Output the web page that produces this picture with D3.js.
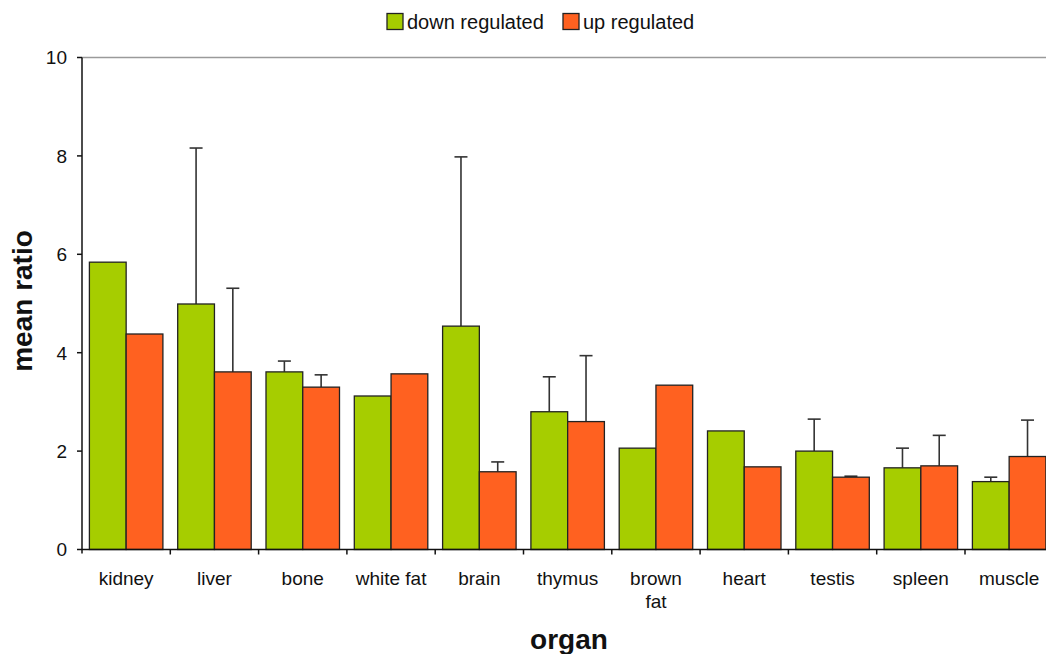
<!DOCTYPE html>
<html>
<head>
<meta charset="utf-8">
<script src="https://cdn.jsdelivr.net/npm/d3@7"></script>
<style>
  html, body { margin: 0; padding: 0; background: #fff; }
  svg { display: block; font-family: "Liberation Sans", Arial, sans-serif; }
</style>
</head>
<body>
<svg id="chart" width="1046" height="654"></svg>
<script>
const categories = ["kidney", "liver", "bone", "white fat", "brain", "thymus", "brown fat", "heart", "testis", "spleen", "muscle"];
const seriesNames = ["down regulated", "up regulated"];
const downValues = [5.84, 4.99, 3.61, 3.12, 4.54, 2.80, 2.06, 2.41, 2.00, 1.66, 1.38];
const downErrors = [null, 8.16, 3.83, null, 7.98, 3.51, null, null, 2.65, 2.06, 1.47];
const upValues = [4.38, 3.61, 3.30, 3.57, 1.58, 2.60, 3.34, 1.68, 1.47, 1.70, 1.89];
const upErrors = [null, 5.31, 3.55, null, 1.78, 3.94, null, null, 1.49, 2.32, 2.63];
const yTicks = [0, 2, 4, 6, 8, 10];
const colors = ["#a6cd00", "#ff6120"];

(function () {
const svg = d3.select("#chart");
const mLeft = 82, mTop = 57.5, mBottom = 549.5, band = 88.3;
const mRight = mLeft + band * categories.length;

const x = d3.scaleBand().domain(categories).range([mLeft, mRight]);
const xs = d3.scaleBand().domain(seriesNames).range([7.4, band - 7.4]);
const y = d3.scaleLinear().domain([0, 10]).range([mBottom, mTop]);

const rows = categories.map((c, i) => ({
  cat: c,
  vals: [
    { s: seriesNames[0], v: downValues[i], e: downErrors[i], col: colors[0] },
    { s: seriesNames[1], v: upValues[i], e: upErrors[i], col: colors[1] }
  ]
}));

svg.append("line").attr("x1", mLeft).attr("x2", 1046).attr("y1", y(10)).attr("y2", y(10))
  .attr("stroke", "#9a9a9a").attr("stroke-width", 1.5);

const g = svg.append("g");
rows.forEach(r => {
  r.vals.forEach(d => {
    if (d.e == null) return;
    const cx = x(r.cat) + xs(d.s) + xs.bandwidth() / 2;
    g.append("line").attr("x1", cx).attr("x2", cx).attr("y1", y(d.v)).attr("y2", y(d.e))
      .attr("stroke", "#333").attr("stroke-width", 1.6);
    g.append("line").attr("x1", cx - 6.5).attr("x2", cx + 6.5).attr("y1", y(d.e)).attr("y2", y(d.e))
      .attr("stroke", "#333").attr("stroke-width", 1.6);
  });
});

rows.forEach(r => {
  g.selectAll(null).data(r.vals).enter().append("rect")
    .attr("x", d => x(r.cat) + xs(d.s))
    .attr("width", xs.bandwidth())
    .attr("y", d => y(d.v))
    .attr("height", d => y(0) - y(d.v))
    .attr("fill", d => d.col)
    .attr("stroke", "#222").attr("stroke-width", 1.3);
});

// y axis
svg.append("line").attr("x1", mLeft).attr("x2", mLeft).attr("y1", mTop).attr("y2", mBottom + 4)
  .attr("stroke", "#111").attr("stroke-width", 1.5);
yTicks.forEach(t => {
  svg.append("line").attr("x1", mLeft - 5).attr("x2", mLeft).attr("y1", y(t)).attr("y2", y(t))
    .attr("stroke", "#111").attr("stroke-width", 1.5);
  svg.append("text").attr("x", mLeft - 15).attr("y", y(t)).attr("dy", "0.36em")
    .attr("text-anchor", "end").attr("font-size", 19).attr("fill", "#111").text(t);
});

// x axis
svg.append("line").attr("x1", mLeft).attr("x2", 1046).attr("y1", mBottom).attr("y2", mBottom)
  .attr("stroke", "#111").attr("stroke-width", 1.5);
categories.forEach((c, i) => {
  if (i > 0) {
    svg.append("line").attr("x1", x(c)).attr("x2", x(c)).attr("y1", mBottom).attr("y2", mBottom + 5)
      .attr("stroke", "#111").attr("stroke-width", 1.5);
  }
  const words = c === "brown fat" ? ["brown", "fat"] : [c];
  const t = svg.append("text").attr("x", x(c) + band / 2).attr("y", 585)
    .attr("text-anchor", "middle").attr("font-size", 19).attr("fill", "#111");
  words.forEach((w, k) => t.append("tspan").attr("x", x(c) + band / 2).attr("dy", k ? 23 : 0).text(w));
});

// axis titles
svg.append("text").attr("x", 569).attr("y", 649).attr("text-anchor", "middle")
  .attr("font-size", 28).attr("font-weight", "bold").attr("fill", "#111").text("organ");
svg.append("text").attr("transform", "translate(32,301) rotate(-90)").attr("text-anchor", "middle")
  .attr("font-size", 28).attr("font-weight", "bold").attr("fill", "#111").text("mean ratio");

// legend
const legendX = [387, 563];
seriesNames.forEach((s, i) => {
  svg.append("rect").attr("x", legendX[i]).attr("y", 13.5).attr("width", 16).attr("height", 16)
    .attr("fill", colors[i]).attr("stroke", "#222").attr("stroke-width", 1.3);
  svg.append("text").attr("x", legendX[i] + 20).attr("y", 22).attr("dy", "0.36em")
    .attr("font-size", 20).attr("fill", "#111").text(s);
});
})();
</script>
</body>
</html>
